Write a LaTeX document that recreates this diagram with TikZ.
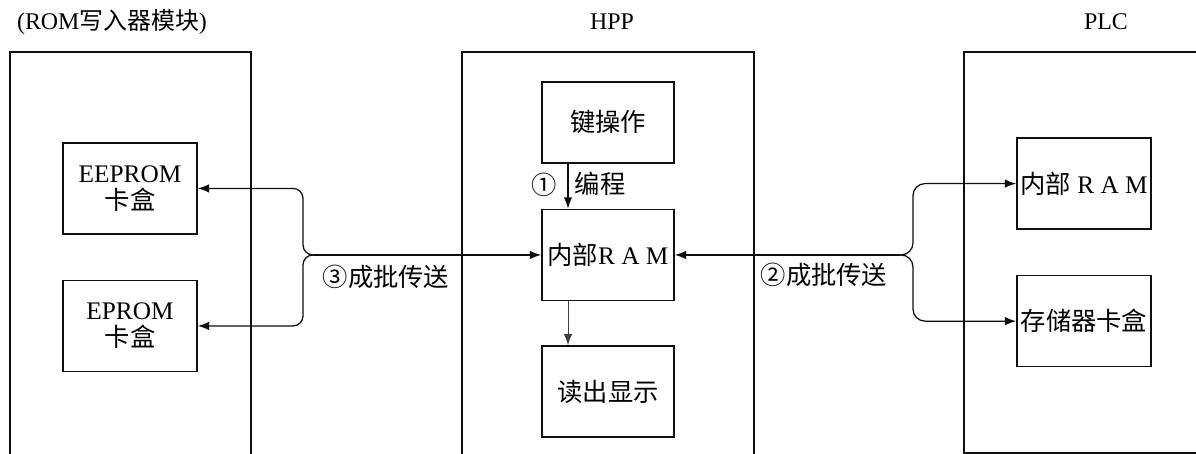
\documentclass[tikz,border=0pt]{standalone}
\usepackage{fontspec}
\setmainfont{Liberation Serif}
\newfontfamily\cjk{Noto Sans CJK SC}
\usepackage{tikz}
\usetikzlibrary{
    arrows.meta,
    positioning,
    calc
}
\definecolor{Bline}{RGB}{15, 15, 15}
\tikzset{
    bproc/.style={
        rectangle, draw=Bline, line width=1.1pt,
        fill=white, text=black, minimum width=3.35cm, minimum height=2.275cm,
        align=center, font=\fontsize{18}{19}\selectfont, inner sep=0pt
    },
    bframe/.style={draw=Bline, line width=1.6pt},
    btitle/.style={font=\fontsize{17}{19}\selectfont, inner sep=0pt},
    blabel/.style={font=\cjk\fontsize{18}{19}\selectfont, inner sep=0pt},
    barr/.style={-{Latex[length=8pt, width=6pt]}, line width=0.9pt, Bline},
}

\begin{document}
\begin{tikzpicture}[node distance=1.125cm and 0.6cm]

    \useasboundingbox (0,0) rectangle (29.9,11.35);

    % outer frames
    \draw [bframe] (0.25,0) -- (0.25,10.05) -- (6.275,10.05) -- (6.275,0);
    \draw [bframe] (11.55,0) -- (11.55,10.05) -- (18.85,10.05) -- (18.85,0);
    \draw [bframe] (29.9,10.05) -- (24.1,10.05) -- (24.1,0.03) -- (29.9,0.03);

    \node [btitle] (t1) at (2.8,10.8) {(ROM{\cjk 写入器模块})};
    \node [btitle] (t2) at (15.3,10.8) {HPP};
    \node [btitle] (t3) at (27.65,10.8) {PLC};

    % ROM writer
    \node [bproc] (n1) at (3.25,6.64) {EEPROM \\ {\cjk 卡盒}};
    \node [bproc, below=of n1] (n2) {EPROM \\ {\cjk 卡盒}};

    % HPP
    \node [bproc, minimum width=3.3cm, minimum height=2.025cm]
        (n3) at (15.2,8.29) {{\cjk 键操作}};
    \node [bproc, minimum width=3.3cm, below=of n3]
        (n4) {{\cjk 内部}R A M};
    \node [bproc, minimum width=3.3cm, below=1.1cm of n4]
        (n5) {{\cjk 读出显示}};

    % PLC
    \node [bproc] (n6) at (27.1,6.76) {{\cjk 内部} R A M};
    \node [bproc, below=of n6] (n7) {{\cjk 存储器卡盒}};

    \coordinate (k1) at ($(n3.south)+(-1.0,0)$);
    \draw [barr] (k1) -- (k1 |- n4.north);
    \draw [barr, line width=0.6pt, black!75] (n4.south -| k1) -- (n5.north -| k1);
    \node [blabel] (l1) at (13.6,6.73) {①};
    \node [blabel] (l2) at (15.0,6.75) {编程};

    \coordinate (f1) at (7.825,0 |- n4.west);
    \draw [barr] (f1) -- (n4.west);
    \draw [barr, rounded corners=0.25cm] (f1) -- ++(-0.25,0) |- (n1.east);
    \draw [barr, rounded corners=0.25cm] (f1) -- ++(-0.25,0) |- (n2.east);
    \node [blabel] (l3) at (9.65,4.43) {③成批传送};

    \coordinate (f2) at (22.5,0 |- n4.east);
    \draw [barr] (f2) -- (n4.east);
    \draw [barr, rounded corners=0.3cm] (f2) -- ++(0.325,0) |- (n6.west);
    \draw [barr, rounded corners=0.3cm] (f2) -- ++(0.325,0) |- (n7.west);
    \node [blabel] (l4) at (20.6,4.47) {②成批传送};

\end{tikzpicture}
\end{document}
